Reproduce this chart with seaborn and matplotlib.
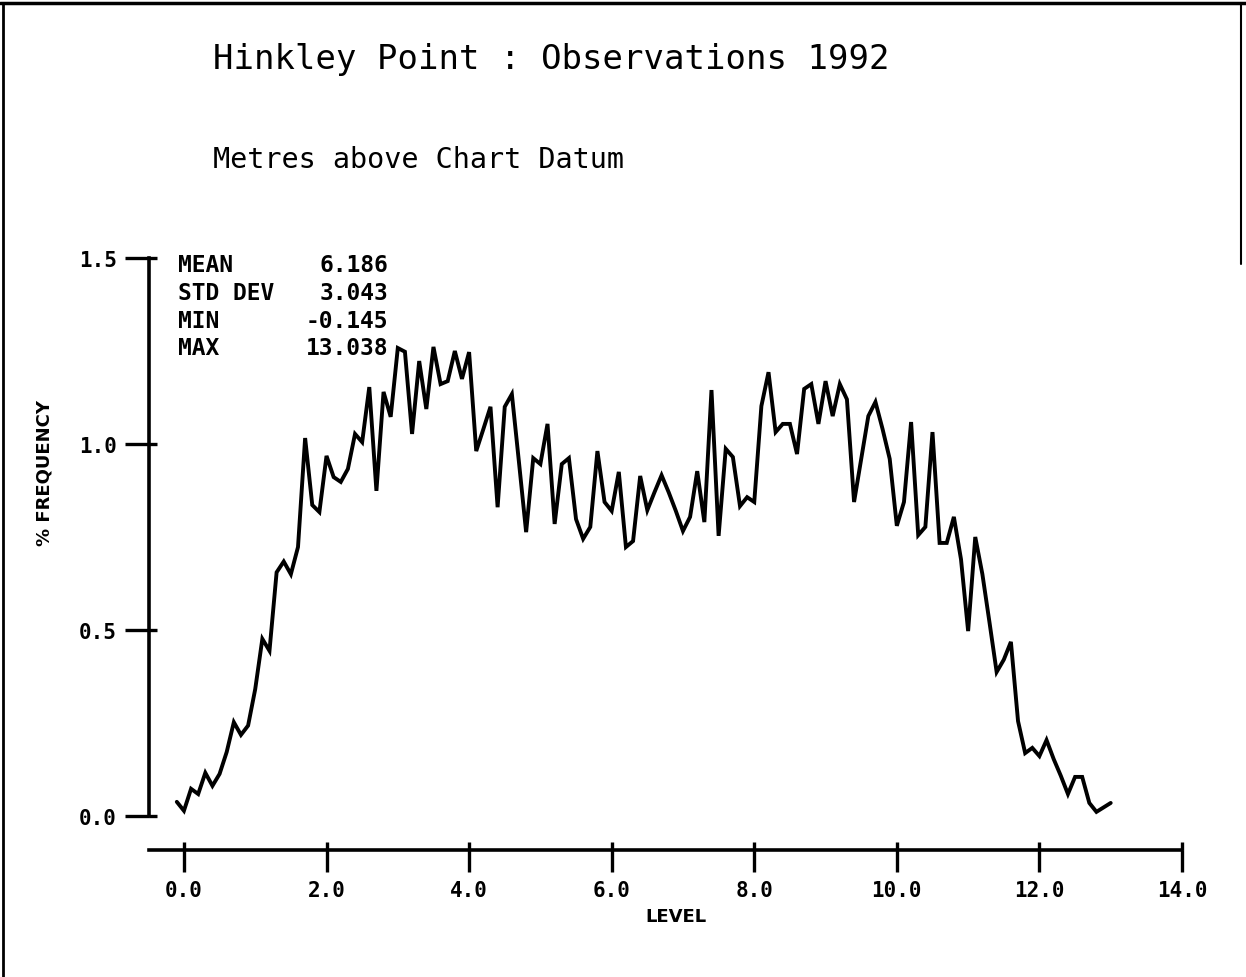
import numpy as np
import pandas as pd
import matplotlib
matplotlib.use("Agg")
import matplotlib.pyplot as plt
import seaborn as sns
from matplotlib.lines import Line2D
from matplotlib.ticker import FixedLocator

# ---------------- data ----------------
level = [-0.1, 0.0, 0.1, 0.2, 0.3, 0.4, 0.5, 0.6, 0.7, 0.8, 0.9,
         1.0, 1.1, 1.2, 1.3, 1.4, 1.5, 1.6, 1.7, 1.8, 1.9,
         2.0, 2.1, 2.2, 2.3, 2.4, 2.5, 2.6, 2.7, 2.8, 2.9,
         3.0, 3.1, 3.2, 3.3, 3.4, 3.5, 3.6, 3.7, 3.8, 3.9,
         4.0, 4.1, 4.2, 4.3, 4.4, 4.5, 4.6, 4.7, 4.8, 4.9,
         5.0, 5.1, 5.2, 5.3, 5.4, 5.5, 5.6, 5.7, 5.8, 5.9,
         6.0, 6.1, 6.2, 6.3, 6.4, 6.5, 6.6, 6.7, 6.8, 6.9,
         7.0, 7.1, 7.2, 7.3, 7.4, 7.5, 7.6, 7.7, 7.8, 7.9,
         8.0, 8.1, 8.2, 8.3, 8.4, 8.5, 8.6, 8.7, 8.8, 8.9,
         9.0, 9.1, 9.2, 9.3, 9.4, 9.5, 9.6, 9.7, 9.8, 9.9,
         10.0, 10.1, 10.2, 10.3, 10.4, 10.5, 10.6, 10.7, 10.8, 10.9,
         11.0, 11.1, 11.2, 11.3, 11.4, 11.5, 11.6, 11.7, 11.8, 11.9,
         12.0, 12.1, 12.2, 12.3, 12.4, 12.5, 12.6, 12.7, 12.8, 12.9,
         13.0]

freq = [0.038, 0.014, 0.073, 0.059, 0.116, 0.081, 0.113, 0.172, 0.252, 0.218, 0.243,
        0.341, 0.476, 0.444, 0.655, 0.684, 0.650, 0.723, 1.016, 0.836, 0.817,
        0.968, 0.911, 0.898, 0.933, 1.027, 1.005, 1.153, 0.874, 1.140, 1.073,
        1.258, 1.248, 1.027, 1.223, 1.094, 1.261, 1.161, 1.169, 1.250, 1.175,
        1.247, 0.981, 1.040, 1.100, 0.830, 1.100, 1.134, 0.950, 0.763, 0.962,
        0.946, 1.054, 0.785, 0.946, 0.962, 0.798, 0.745, 0.777, 0.981, 0.844,
        0.820, 0.925, 0.723, 0.739, 0.914, 0.822, 0.870, 0.916, 0.870, 0.820,
        0.766, 0.804, 0.927, 0.790, 1.145, 0.753, 0.987, 0.965, 0.833, 0.857,
        0.844, 1.102, 1.193, 1.032, 1.054, 1.054, 0.973, 1.148, 1.161, 1.054,
        1.169, 1.075, 1.161, 1.120, 0.844, 0.960, 1.075, 1.113, 1.040, 0.960,
        0.780, 0.844, 1.059, 0.755, 0.777, 1.032, 0.734, 0.734, 0.804, 0.690,
        0.497, 0.750, 0.650, 0.520, 0.387, 0.420, 0.468, 0.255, 0.169, 0.183,
        0.161, 0.204, 0.153, 0.108, 0.059, 0.105, 0.105, 0.035, 0.011, 0.023,
        0.035]

title = "Hinkley Point : Observations 1992"
subtitle = "Metres above Chart Datum"
stat_names = ["MEAN", "STD DEV", "MIN", "MAX"]
stat_values = ["6.186", "3.043", "-0.145", "13.038"]
x_ticks = [0.0, 2.0, 4.0, 6.0, 8.0, 10.0, 12.0, 14.0]
y_ticks = [0.0, 0.5, 1.0, 1.5]
x_label = "LEVEL"
y_label = "% FREQUENCY"

# ---------------- style ----------------
sns.set_style("white")
plt.rcParams["font.family"] = ["DejaVu Sans Mono", "DejaVu Sans"]
plt.rcParams["text.color"] = "black"
plt.rcParams["axes.labelcolor"] = "black"

W, H = 1246, 978
fig = plt.figure(figsize=(W / 100, H / 100), dpi=100)
fig.patch.set_facecolor("white")

# axes box: left 149px, right 1182px, top 259px, bottom 851px
ax = fig.add_axes([149 / W, 1 - 851 / H, (1182 - 149) / W, (851 - 259) / H])
ax.set_facecolor("white")

df = pd.DataFrame({"level": level, "freq": freq})
sns.lineplot(data=df, x="level", y="freq", color="black", linewidth=2.8,
             ax=ax, solid_joinstyle="miter")

ax.set_xlim(-0.49, 14.0)
ax.set_ylim(-0.0915, 1.5)

for s in ["top", "right"]:
    ax.spines[s].set_visible(False)
ax.spines["left"].set_bounds(0.0, 1.5)
for s in ["left", "bottom"]:
    ax.spines[s].set_linewidth(2.6)
    ax.spines[s].set_color("black")

ax.set_xticks(x_ticks)
ax.set_xticklabels([f"{v:.1f}" for v in x_ticks])
ax.set_yticks(y_ticks)
ax.set_yticklabels([f"{v:.1f}" for v in y_ticks])
# small inward stubs (ticks cross the axis line, mostly outward)
ax.xaxis.remove_overlapping_locs = False
ax.yaxis.remove_overlapping_locs = False
ax.xaxis.set_minor_locator(FixedLocator(x_ticks))
ax.yaxis.set_minor_locator(FixedLocator(y_ticks))

ax.tick_params(axis="both", which="major", direction="out", width=2.4, color="black",
               labelsize=15, labelcolor="black", bottom=True, left=True)
ax.tick_params(axis="both", which="minor", direction="in", width=2.4, color="black",
               length=6, bottom=True, left=True)
ax.tick_params(axis="y", which="major", length=17, pad=6)
ax.tick_params(axis="x", which="major", length=16, pad=5.5)
for lab in ax.get_xticklabels() + ax.get_yticklabels():
    lab.set_fontweight("bold")

ax.set_xlabel(x_label, fontsize=13, fontweight="bold", family="DejaVu Sans")
ax.set_ylabel(y_label, fontsize=13, fontweight="bold", family="DejaVu Sans")
ax.xaxis.set_label_coords((676 - 149) / 1033, (851 - 908) / 592)
ax.yaxis.set_label_coords((54 - 149) / 1033, (851 - 473) / 592)

# titles
fig.text(213 / W, 1 - 60 / H, title, fontsize=24.5, ha="left", va="center")
fig.text(213 / W, 1 - 160 / H, subtitle, fontsize=20.5, ha="left", va="center")

# statistics block
for i, (n, v) in enumerate(zip(stat_names, stat_values)):
    yy = 1 - (265 + 28 * i) / H
    fig.text(178 / W, yy, n, fontsize=16.5, fontweight="bold", ha="left", va="center")
    fig.text(388 / W, yy, v, fontsize=16.5, fontweight="bold", ha="right", va="center")

# page border (top, left, partial right)
fig.add_artist(Line2D([0, 1], [1 - 4 / H, 1 - 4 / H], transform=fig.transFigure,
                      color="black", linewidth=2.5))
fig.add_artist(Line2D([3 / W, 3 / W], [0, 1 - 4 / H], transform=fig.transFigure,
                      color="black", linewidth=2.0))
fig.add_artist(Line2D([1241 / W, 1241 / W], [1 - 265 / H, 1 - 4 / H],
                      transform=fig.transFigure, color="black", linewidth=1.5))

fig.savefig("out.png", dpi=100, facecolor="white")
